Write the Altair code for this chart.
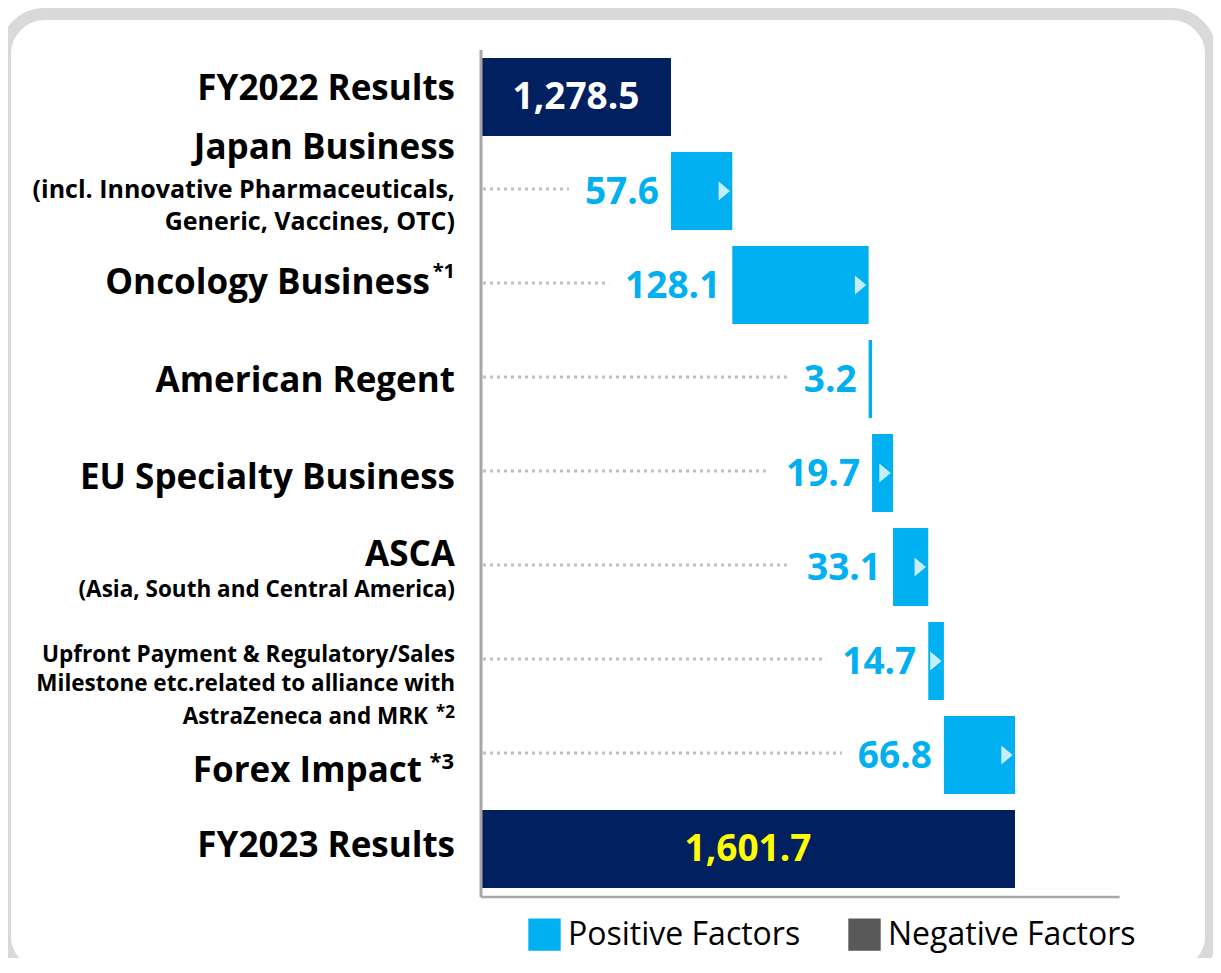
import altair as alt
import pandas as pd

# ---------------- data ----------------
categories = ["FY2022 Results", "Japan Business", "Oncology Business", "American Regent",
              "EU Specialty Business", "ASCA", "Upfront Payment", "Forex Impact", "FY2023 Results"]
values = [1278.5, 57.6, 128.1, 3.2, 19.7, 33.1, 14.7, 66.8, 1601.7]
kinds = ["Total", "Positive Factors", "Positive Factors", "Positive Factors", "Positive Factors",
         "Positive Factors", "Positive Factors", "Positive Factors", "Total"]
value_labels = ["1,278.5", "57.6", "128.1", "3.2", "19.7", "33.1", "14.7", "66.8", "1,601.7"]

label_main = ["FY2022 Results", "Japan Business", "Oncology Business", "American Regent",
              "EU Specialty Business", "ASCA", "Upfront Payment & Regulatory/Sales",
              "Forex Impact", "FY2023 Results"]
label_sub1 = ["", "(incl. Innovative Pharmaceuticals,", "", "", "",
              "(Asia, South and Central America)", "Milestone etc.related to alliance with", "", ""]
label_sub2 = ["", "Generic, Vaccines, OTC)", "", "", "", "", "AstraZeneca and MRK", "", ""]
footnotes = ["", "", "*1", "", "", "", "*2", "*3", ""]
legend_items = ["Positive Factors", "Negative Factors"]
axis_start = 1100
axis_end = 1700

# ---------------- style / layout ----------------
FONT = "Open Sans"
NAVY = "#002060"
CYAN = "#00b0f0"
GREY = "#595959"
W, H = 1205, 944
XR = [473, 1007]                       # pixel range for [axis_start, final total]
K = (XR[1] - XR[0]) / (values[-1] - axis_start)

# waterfall table
rows = []
cum = None
for c, v, k, lab in zip(categories, values, kinds, value_labels):
    if k == "Total":
        s, e = axis_start, v
        cum = v
    else:
        s, e = cum, cum + v
        cum = e
    tw = sum(21 if ch.isdigit() else 11 for ch in lab)
    rows.append(dict(cat=c, start=s, end=e, kind=k, label=lab, mid=(s + e) / 2,
                     dot_end=s - (12 + tw + 16) / K, val=v))
df = pd.DataFrame(rows)
pos = df[df.kind != "Total"]
tot = df[df.kind == "Total"].copy()
tot["tcolor"] = ["white", "#ffff00"]

yscale = alt.Scale(domain=categories, range=[36, 882], paddingInner=0.17, paddingOuter=0.085)
xscale = alt.Scale(domain=[axis_start, values[-1]], range=XR, nice=False, zero=False)
Y = alt.Y("cat:N", scale=yscale, axis=None)

# decorative rounded frame (partly clipped, as in the reference)
frame = alt.Chart(pd.DataFrame({"f": [0]})).mark_rect(
    fill="white", fillOpacity=0, stroke="#d9d9d9", strokeWidth=12, cornerRadius=40
).encode(x=alt.value(-3), x2=alt.value(1203), y=alt.value(0), y2=alt.value(962))

dots = alt.Chart(pos).mark_rule(color="#bfbfbf", strokeWidth=3, strokeDash=[3, 4], yOffset=-2).encode(
    y=Y, x=alt.X("start0:Q", scale=xscale, axis=None), x2="dot_end:Q"
).transform_calculate(start0=str(axis_start + 2 / K))

bars_pos = alt.Chart(pos).mark_bar().encode(
    y=Y, x=alt.X("start:Q", scale=xscale, axis=None), x2="end:Q",
    color=alt.Color("kind:N", scale=alt.Scale(domain=legend_items, range=[CYAN, GREY]),
                    legend=alt.Legend(orient="none", legendX=520, legendY=904, direction="horizontal",
                                      title=None, symbolType="square", symbolSize=1050,
                                      symbolStrokeWidth=0, labelFontSize=32, labelFont=FONT,
                                      labelColor="black", labelLimit=0, labelOffset=7,
                                      columnPadding=47))
)
bars_tot = alt.Chart(tot).mark_bar(color=NAVY).encode(
    y=Y, x=alt.X("start:Q", scale=xscale, axis=None), x2="end:Q"
)

arrow_path = "M-0.6,-1L0.6,0L-0.6,1Z"
arrows = alt.Chart(pos[pos.val >= 10]).mark_point(
    shape=arrow_path, filled=True, color="#c6effc", opacity=1, size=361, xOffset=-8, strokeWidth=0
).encode(y=Y, x=alt.X("end:Q", scale=xscale, axis=None))

vtext = alt.Chart(pos).mark_text(align="right", baseline="middle", dx=-12, dy=2, fontSize=37,
                                 fontWeight="bold", font=FONT, color=CYAN).encode(
    y=Y, x=alt.X("start:Q", scale=xscale, axis=None), text="label:N")
ttext = alt.Chart(tot).mark_text(align="center", baseline="middle", dy=1, fontSize=37,
                                 fontWeight="bold", font=FONT).encode(
    y=Y, x=alt.X("mid:Q", scale=xscale, axis=None), text="label:N",
    color=alt.Color("tcolor:N", scale=None))

axis_df = pd.DataFrame({"a": [axis_start], "b": [axis_end]})
vline = alt.Chart(axis_df).mark_rule(color="#a6a6a6", strokeWidth=3).encode(
    x=alt.X("a:Q", scale=xscale, axis=None), y=alt.value(36), y2=alt.value(883))
hline = alt.Chart(axis_df).mark_rule(color="#a6a6a6", strokeWidth=2.5).encode(
    x=alt.X("a:Q", scale=xscale, axis=None), x2="b:Q", y=alt.value(883))

# label lines: row index -> (font size, dy, right edge in page px)
main_layout = {0: (35, -8, 455), 1: (35, -43, 455), 2: (35, -2, 430), 3: (35, 2, 455),
               4: (35, 5, 455), 5: (35, -12, 455), 6: (22.5, -6, 455), 7: (35, 16, 422), 8: (35, -3, 455)}
sub1_layout = {1: (25, -1, 455), 5: (22.5, 23, 455), 6: (22.5, 23, 455)}
sub2_layout = {1: (25, 31, 455), 6: (22.5, 56, 428)}
fn_layout = {2: (20, -13, 455), 6: (17, 52, 455), 7: (22, 7, 454)}

label_layers = []
for src, lay in [(label_main, main_layout), (label_sub1, sub1_layout),
                 (label_sub2, sub2_layout), (footnotes, fn_layout)]:
    for i, (size, dy, right) in lay.items():
        d = pd.DataFrame({"cat": [categories[i]], "t": [src[i]]})
        label_layers.append(
            alt.Chart(d).mark_text(align="right", baseline="middle", fontSize=size, dy=dy,
                                   fontWeight="bold", font=FONT, color="black").encode(
                y=Y, x=alt.value(right - 8), text="t:N"))

chart = alt.layer(frame, dots, bars_pos, bars_tot, arrows, vtext, ttext, vline, hline,
                  *label_layers).properties(
    width=W, height=H,
    autosize=alt.AutoSizeParams(type="none"),
    padding={"left": 0, "top": 6, "right": 0, "bottom": 0},
).configure_view(strokeWidth=0)

chart.save("out.html", embed_options={"renderer": "svg", "actions": False})
